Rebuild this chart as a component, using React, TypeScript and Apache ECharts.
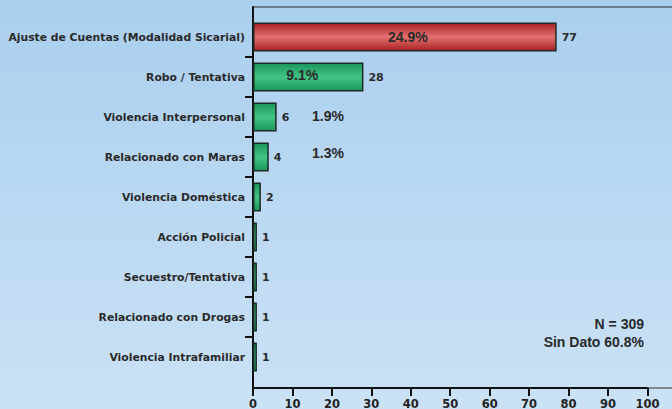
import React, { useEffect, useRef } from "react";
import * as echarts from "echarts";

const categories = [
  "Ajuste de Cuentas (Modalidad Sicarial)",
  "Robo / Tentativa",
  "Violencia Interpersonal",
  "Relacionado con Maras",
  "Violencia Doméstica",
  "Acción Policial",
  "Secuestro/Tentativa",
  "Relacionado con Drogas",
  "Violencia Intrafamiliar",
];
const counts = [77, 28, 6, 4, 2, 1, 1, 1, 1];
const percents = ["24.9%", "9.1%", "1.9%", "1.3%", "", "", "", "", ""];
const noteLines = ["N = 309", "Sin Dato 60.8%"];
const boundaryTicks = ["b0", "b1", "b2", "b3", "b4", "b5", "b6", "b7", "b8", "b9"];

const DV = "'DejaVu Sans', Verdana, sans-serif";
const AR = "'Liberation Sans', Arial, sans-serif";

const redGrad = () =>
  new echarts.graphic.LinearGradient(0, 0, 0, 1, [
    { offset: 0, color: "#a82222" },
    { offset: 0.5, color: "#e37070" },
    { offset: 1, color: "#a82222" },
  ]);
const greenGrad = () =>
  new echarts.graphic.LinearGradient(0, 0, 0, 1, [
    { offset: 0, color: "#1c975b" },
    { offset: 0.5, color: "#42c385" },
    { offset: 1, color: "#1c975b" },
  ]);

const pctLabelStyle: any[] = [
  { position: "inside", offset: [3, 0] },
  { position: "inside", offset: [-6, -2.5] },
  { position: "insideLeft", distance: 0, offset: [59, -1.5] },
  { position: "insideLeft", distance: 0, offset: [59, -4] },
];

const PLOT_W = 394.4;

export default function App() {
  const ref = useRef<HTMLDivElement>(null);
  useEffect(() => {
    const chart = echarts.init(ref.current!, null, { renderer: "svg" });
    const option: any = {
      animation: false,
      backgroundColor: new echarts.graphic.LinearGradient(0, 0, 0, 1, [
        { offset: 0, color: "#aacfee" },
        { offset: 1, color: "#cbe2f6" },
      ]),
      grid: [
        {
          left: 253,
          top: 7,
          width: 440,
          height: 381,
          outerBoundsMode: "none",
          containLabel: false,
          show: true,
          backgroundColor: "transparent",
          borderColor: "#333",
          borderWidth: 1.2,
        },
        {
          left: 253,
          top: 7,
          width: PLOT_W,
          height: 381,
          outerBoundsMode: "none",
          containLabel: false,
        },
        {
          left: 253,
          top: 17,
          width: PLOT_W,
          height: 360,
          outerBoundsMode: "none",
          containLabel: false,
        },
      ],
      xAxis: [
        { gridIndex: 0, type: "value", min: 0, max: 100, show: false },
        {
          gridIndex: 1,
          type: "value",
          min: 0,
          max: 100,
          interval: 10,
          axisLine: { show: true, lineStyle: { color: "#111", width: 2 } },
          axisTick: { show: true, length: 8, lineStyle: { color: "#111", width: 2 } },
          axisLabel: {
            margin: 10,
            fontFamily: DV,
            fontWeight: "bold",
            fontSize: 11.5,
            color: "#222",
          },
          splitLine: { show: false },
        },
        { gridIndex: 2, type: "value", min: 0, max: 100, show: false },
      ],
      yAxis: [
        { gridIndex: 0, type: "value", show: false },
        {
          gridIndex: 1,
          type: "value",
          axisLine: { show: true, lineStyle: { color: "#111", width: 2 } },
          axisTick: { show: false },
          axisLabel: { show: false },
          splitLine: { show: false },
        },
        {
          gridIndex: 2,
          type: "category",
          inverse: true,
          data: categories,
          axisLine: { show: false },
          axisTick: { show: false },
          axisLabel: {
            margin: 8,
            fontFamily: DV,
            fontWeight: "bold",
            fontSize: 10.8,
            color: "#2a2a2a",
          },
        },
        {
          gridIndex: 2,
          type: "category",
          position: "left",
          boundaryGap: false,
          data: boundaryTicks,
          axisLine: { show: false },
          axisLabel: { show: false },
          axisTick: {
            show: true,
            length: 8,
            interval: (i: number) => i > 0 && i < boundaryTicks.length - 1,
            lineStyle: { color: "#111", width: 2 },
          },
        },
      ],
      series: [
        {
          type: "bar",
          xAxisIndex: 2,
          yAxisIndex: 2,
          barWidth: 29,
          data: counts.map((v, i) => ({
            value: v,
            itemStyle: {
              color: i === 0 ? redGrad() : greenGrad(),
              borderColor: "#1d2a25",
              borderWidth: 1.5,
            },
          })),
          label: {
            show: true,
            position: "right",
            distance: 5,
            fontFamily: DV,
            fontWeight: "bold",
            fontSize: 11,
            color: "#2a2a2a",
          },
        },
        {
          type: "bar",
          xAxisIndex: 2,
          yAxisIndex: 2,
          barWidth: 29,
          barGap: "-100%",
          silent: true,
          itemStyle: { color: "transparent" },
          data: counts.map((v, i) => ({
            value: v,
            label: {
              show: percents[i] !== "",
              formatter: percents[i],
              ...(pctLabelStyle[i] || {}),
            },
          })),
          label: {
            show: true,
            fontFamily: AR,
            fontWeight: "bold",
            fontSize: 14,
            color: "#2a2a2a",
          },
        },
      ],
      graphic: noteLines.map((t, i) => ({
        type: "text",
        right: 28,
        top: 317 + i * 17.6,
        style: {
          text: t,
          fontFamily: AR,
          fontWeight: "bold",
          fontSize: 14,
          fill: "#2a2a2a",
          textAlign: "right",
        },
      })),
    };
    chart.setOption(option);
    return () => chart.dispose();
  }, []);
  return (
    <div
      ref={ref}
      style={{ position: "fixed", left: 0, top: 0, width: 672, height: 409 }}
    />
  );
}
